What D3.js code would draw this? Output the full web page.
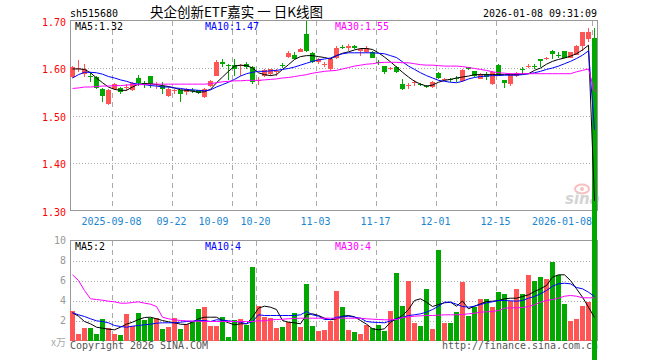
<!DOCTYPE html>
<html>
<head>
<meta charset="utf-8">
<script src="https://cdn.jsdelivr.net/npm/d3@7"></script>
<style>
  html, body { margin: 0; padding: 0; background: #fff; }
  svg { display: block; }
</style>
</head>
<body>
<svg id="chart" width="660" height="360"></svg>
<script>
// 央企创新ETF嘉实 daily K-line, 88 sessions (2025-08-28 .. 2026-01-08)
const open = [
  1.581, 1.597, 1.588, 1.584, 1.581, 1.556, 1.525, 1.556, 1.558, 1.558,
  1.553, 1.579, 1.568, 1.583, 1.565, 1.563, 1.541, 1.551, 1.553, 1.549,
  1.554, 1.553, 1.539, 1.562, 1.584, 1.613, 1.607, 1.606, 1.604, 1.609,
  1.603, 1.572, 1.583, 1.588, 1.592, 1.607, 1.624, 1.628, 1.634, 1.671,
  1.632, 1.612, 1.606, 1.598, 1.622, 1.645, 1.643, 1.646, 1.636, 1.633,
  1.634, 1.612, 1.604, 1.597, 1.603, 1.567, 1.562, 1.568, 1.566, 1.563,
  1.560, 1.590, 1.575, 1.576, 1.579, 1.572, 1.602, 1.593, 1.577, 1.588,
  1.567, 1.606, 1.574, 1.567, 1.583, 1.598, 1.603, 1.605, 1.618, 1.618,
  1.636, 1.628, 1.635, 1.622, 1.628, 1.647, 1.662, 1.663,
];
const high = [
  1.605, 1.617, 1.609, 1.591, 1.584, 1.558, 1.556, 1.569, 1.560, 1.567,
  1.570, 1.586, 1.572, 1.584, 1.570, 1.570, 1.560, 1.556, 1.554, 1.558,
  1.558, 1.554, 1.558, 1.574, 1.616, 1.620, 1.609, 1.620, 1.609, 1.613,
  1.605, 1.581, 1.597, 1.598, 1.598, 1.610, 1.636, 1.634, 1.643, 1.700,
  1.634, 1.622, 1.613, 1.622, 1.646, 1.648, 1.650, 1.648, 1.643, 1.646,
  1.636, 1.616, 1.605, 1.603, 1.605, 1.576, 1.568, 1.575, 1.568, 1.565,
  1.572, 1.591, 1.579, 1.579, 1.584, 1.597, 1.603, 1.594, 1.590, 1.591,
  1.593, 1.608, 1.575, 1.590, 1.591, 1.603, 1.609, 1.609, 1.619, 1.624,
  1.638, 1.633, 1.636, 1.634, 1.648, 1.676, 1.685, 1.685,
];
const low = [
  1.579, 1.591, 1.581, 1.570, 1.556, 1.528, 1.523, 1.553, 1.546, 1.551,
  1.551, 1.562, 1.558, 1.558, 1.556, 1.546, 1.539, 1.546, 1.528, 1.544,
  1.548, 1.546, 1.537, 1.560, 1.584, 1.602, 1.574, 1.584, 1.584, 1.598,
  1.567, 1.565, 1.581, 1.584, 1.584, 1.600, 1.622, 1.619, 1.633, 1.634,
  1.611, 1.609, 1.602, 1.593, 1.620, 1.639, 1.636, 1.639, 1.626, 1.632,
  1.621, 1.606, 1.588, 1.595, 1.590, 1.554, 1.556, 1.563, 1.562, 1.558,
  1.558, 1.577, 1.573, 1.570, 1.570, 1.570, 1.595, 1.581, 1.576, 1.574,
  1.565, 1.584, 1.558, 1.562, 1.581, 1.588, 1.600, 1.598, 1.602, 1.616,
  1.618, 1.621, 1.621, 1.621, 1.627, 1.636, 1.654, 0,
];
const close = [
  1.602, 1.599, 1.598, 1.582, 1.558, 1.541, 1.553, 1.567, 1.549, 1.561,
  1.568, 1.569, 1.566, 1.567, 1.567, 1.556, 1.556, 1.553, 1.546, 1.556,
  1.551, 1.548, 1.556, 1.572, 1.613, 1.609, 1.605, 1.598, 1.606, 1.602,
  1.570, 1.574, 1.595, 1.597, 1.594, 1.605, 1.632, 1.620, 1.641, 1.636,
  1.612, 1.620, 1.609, 1.619, 1.643, 1.643, 1.646, 1.643, 1.639, 1.643,
  1.622, 1.611, 1.591, 1.599, 1.591, 1.556, 1.565, 1.570, 1.564, 1.561,
  1.570, 1.579, 1.577, 1.574, 1.576, 1.595, 1.597, 1.583, 1.588, 1.581,
  1.591, 1.586, 1.568, 1.588, 1.590, 1.596, 1.605, 1.603, 1.615, 1.622,
  1.630, 1.626, 1.622, 1.633, 1.647, 1.675, 1.675, 0,
];
// volume, 万手
const volume = [
  3.0, 0.7, 1.3, 1.3, 0.7, 2.2, 1.3, 0.7, 0.6, 2.7,
  1.5, 2.8, 2.1, 2.3, 2.3, 1.2, 1.4, 2.3, 1.2, 1.7,
  1.9, 3.2, 3.4, 1.5, 1.5, 2.4, 0.4, 2.1, 2.2, 1.6,
  7.4, 3.5, 2.4, 2.3, 1.3, 1.4, 1.9, 2.8, 1.4, 5.7,
  1.5, 1.0, 1.1, 2.0, 5.0, 3.4, 1.1, 0.9, 0.7, 1.6,
  1.3, 1.6, 1.0, 3.0, 6.8, 3.5, 6.0, 1.8, 1.5, 5.2,
  1.2, 9.1, 1.8, 1.8, 2.9, 5.9, 2.5, 3.4, 4.2, 4.2,
  3.4, 4.9, 4.7, 4.0, 5.2, 4.7, 6.6, 6.0, 6.4, 6.2,
  7.9, 6.6, 3.7, 2.0, 2.2, 3.5, 3.9, 0.1,
];

// moving averages as drawn (they carry history from before the window)
const ma5 = [
  1.598, 1.598, 1.597, 1.590, 1.579, 1.569, 1.560, 1.555, 1.553, 1.553,
  1.560, 1.566, 1.567, 1.567, 1.565, 1.563, 1.561, 1.558, 1.554, 1.553,
  1.551, 1.549, 1.550, 1.555, 1.569, 1.581, 1.593, 1.604, 1.606, 1.605,
  1.600, 1.590, 1.586, 1.584, 1.586, 1.597, 1.607, 1.618, 1.624, 1.626,
  1.626, 1.624, 1.622, 1.619, 1.626, 1.631, 1.634, 1.638, 1.641, 1.641,
  1.639, 1.632, 1.623, 1.613, 1.602, 1.591, 1.581, 1.572, 1.566, 1.562,
  1.564, 1.570, 1.574, 1.576, 1.579, 1.581, 1.583, 1.586, 1.586, 1.586,
  1.586, 1.586, 1.586, 1.586, 1.586, 1.587, 1.588, 1.595, 1.600, 1.608,
  1.614, 1.618, 1.621, 1.625, 1.630, 1.638, 1.648, 1.32,
];
const ma10 = [
  1.579, 1.586, 1.591, 1.591, 1.590, 1.587, 1.582, 1.579, 1.575, 1.572,
  1.568, 1.566, 1.565, 1.563, 1.562, 1.560, 1.560, 1.558, 1.557, 1.555,
  1.554, 1.553, 1.552, 1.554, 1.560, 1.565, 1.570, 1.576, 1.583, 1.588,
  1.591, 1.593, 1.593, 1.594, 1.595, 1.597, 1.599, 1.602, 1.606, 1.610,
  1.614, 1.617, 1.619, 1.621, 1.626, 1.630, 1.632, 1.632, 1.632, 1.632,
  1.632, 1.631, 1.630, 1.626, 1.622, 1.613, 1.604, 1.597, 1.590, 1.584,
  1.579, 1.574, 1.572, 1.570, 1.569, 1.572, 1.577, 1.580, 1.582, 1.583,
  1.584, 1.584, 1.585, 1.585, 1.585, 1.586, 1.588, 1.590, 1.593, 1.597,
  1.600, 1.604, 1.609, 1.614, 1.620, 1.627, 1.636, 1.47,
];
const ma30 = [
  1.557, 1.558, 1.560, 1.560, 1.561, 1.562, 1.562, 1.563, 1.563, 1.564,
  1.565, 1.565, 1.565, 1.566, 1.566, 1.566, 1.566, 1.566, 1.566, 1.566,
  1.566, 1.566, 1.566, 1.567, 1.569, 1.571, 1.572, 1.573, 1.573, 1.574,
  1.574, 1.574, 1.575, 1.576, 1.577, 1.579, 1.580, 1.582, 1.584, 1.586,
  1.589, 1.591, 1.593, 1.594, 1.595, 1.598, 1.601, 1.604, 1.606, 1.608,
  1.609, 1.611, 1.612, 1.612, 1.612, 1.611, 1.611, 1.609, 1.607, 1.606,
  1.606, 1.605, 1.604, 1.604, 1.604, 1.603, 1.601, 1.599, 1.597, 1.595,
  1.592, 1.590, 1.589, 1.588, 1.588, 1.588, 1.588, 1.588, 1.588, 1.588,
  1.588, 1.588, 1.588, 1.588, 1.592, 1.595, 1.598, 1.55,
];
const volMa5 = [
  2.77, 2.43, 1.9, 1.67, 1.33, 1.23, 1.13, 1.07, 1.33, 1.63,
  1.83, 2.1, 2.3, 2.33, 2.17, 2.0, 1.87, 1.77, 1.63, 1.6,
  1.83, 2.17, 2.33, 2.33, 2.33, 2.0, 1.77, 1.57, 1.67, 1.67,
  2.33, 3.23, 3.43, 3.33, 3.1, 2.0, 1.83, 1.77, 1.67, 2.57,
  2.67, 2.5, 2.23, 2.07, 2.17, 2.43, 2.5, 2.37, 2.0, 1.63,
  1.17, 1.07, 1.17, 1.83, 2.17, 2.5, 3.1, 4.0, 4.17, 3.83,
  3.4, 3.6, 3.77, 3.83, 3.43, 3.95, 3.17, 3.43, 3.67, 3.9,
  3.93, 4.0, 4.17, 4.23, 4.23, 4.4, 4.57, 4.9, 5.17, 5.5,
  6.33, 6.57, 6.57, 6.0, 5.17, 4.33, 3.33, 2.3,
];
const volMa10 = [
  2.77, 2.57, 2.4, 2.17, 1.97, 1.9, 1.77, 1.5, 1.4, 1.33,
  1.43, 1.5, 1.57, 1.63, 1.73, 1.77, 1.77, 1.77, 1.83, 1.9,
  1.93, 2.0, 2.0, 1.9, 2.07, 2.03, 1.97, 1.9, 1.83, 1.67,
  1.9, 2.57, 2.5, 2.5, 2.5, 2.5, 2.5, 2.5, 2.57, 2.9,
  2.57, 2.43, 2.1, 2.1, 2.33, 2.37, 2.43, 2.33, 2.23, 1.9,
  1.83, 1.8, 1.77, 1.97, 2.17, 2.3, 2.5, 2.57, 2.67, 2.83,
  3.1, 3.43, 3.83, 3.83, 3.63, 3.4, 3.33, 3.43, 3.6, 3.77,
  3.87, 4.0, 4.0, 3.97, 3.93, 4.0, 4.23, 4.4, 4.67, 5.0,
  5.43, 5.67, 5.73, 5.67, 5.3, 5.17, 4.83, 4.4,
];
const volMa30 = [
  6.57, 6.0, 5.0, 4.17, 4.1, 4.03, 3.93, 3.87, 3.73, 3.73,
  3.8, 3.87, 3.73, 3.63, 3.4, 2.33, 2.17, 2.07, 2.0, 1.97,
  1.93, 1.93, 1.9, 1.9, 1.9, 1.9, 1.9, 1.9, 1.9, 1.9,
  1.9, 1.97, 1.97, 2.07, 2.1, 2.13, 2.17, 2.2, 2.23, 2.23,
  2.23, 2.23, 2.23, 2.23, 2.23, 2.23, 2.23, 2.23, 2.23, 2.17,
  2.13, 2.1, 2.07, 2.07, 2.1, 2.3, 2.37, 2.43, 2.47, 2.5,
  2.5, 2.53, 2.57, 2.57, 2.57, 2.6, 2.67, 2.73, 2.83, 2.87,
  2.9, 3.0, 3.23, 3.27, 3.27, 3.3, 3.4, 3.57, 3.83, 4.0,
  4.1, 4.23, 4.43, 4.5, 4.43, 4.27, 4.27, 4.27,
];

// axis ticks
const priceTicks = [1.70, 1.60, 1.50, 1.40, 1.30];
const volTicks = [10, 8, 6, 4, 2];
const dateIdx = [7, 17, 24, 31, 41, 51, 61, 71, 87];
const dateLabels = ["2025-09-08", "09-22", "10-09", "10-20", "11-03", "11-17", "12-01", "12-15", "2026-01-08"];
const vGridIdx = [7, 17, 27, 31, 41, 51, 61, 71, 87];

const maLabels = ["MA5:1.32", "MA10:1.47", "MA30:1.55"];
const volMaLabels = ["MA5:2", "MA10:4", "MA30:4"];

(function () {
  const svg = d3.select("#chart");
  const RED = "#ff5555", GREEN = "#00a800", GRID = "#aaaaaa", BORDER = "#999999";
  const maColors = ["#000000", "#0000ff", "#ff00ff"];
  const MONO = "'DejaVu Sans Mono', 'Liberation Mono', monospace";

  const n = close.length;
  const x = d3.scaleLinear().domain([0, 88]).range([70, 598]);
  const yP = d3.scaleLinear().domain([1.30, 1.70]).range([210.5, 20.5]);
  const yV = d3.scaleLinear().domain([0, 10]).range([340.5, 240.5]);
  const fmt2 = d3.format(".2f");

  // monospace text with a fixed 6px character cell, like the bitmap font of the original
  function mono(g, str, px, py, color, anchor) {
    return g.append("text")
      .attr("x", px).attr("y", py)
      .attr("font-family", MONO).attr("font-size", 11)
      .attr("fill", color)
      .attr("text-anchor", anchor || "start")
      .attr("textLength", str.length * 6)
      .attr("lengthAdjust", "spacingAndGlyphs")
      .text(str);
  }

  const grid = svg.append("g").attr("shape-rendering", "crispEdges");

  // horizontal dotted grid
  grid.selectAll("line.hp")
    .data(priceTicks.slice(1, -1))
    .join("line")
    .attr("x1", 70).attr("x2", 598)
    .attr("y1", (d) => Math.round(yP(d)) + 0.5).attr("y2", (d) => Math.round(yP(d)) + 0.5)
    .attr("stroke", GRID).attr("stroke-dasharray", "1,2");
  grid.selectAll("line.hv")
    .data(volTicks.slice(1))
    .join("line")
    .attr("x1", 70).attr("x2", 598)
    .attr("y1", (d) => Math.round(yV(d)) + 0.5).attr("y2", (d) => Math.round(yV(d)) + 0.5)
    .attr("stroke", GRID).attr("stroke-dasharray", "1,2");

  // vertical dashed grid, both panels
  [[yP(1.70), yP(1.30)], [yV(10), yV(0)]].forEach(([y0, y1]) => {
    grid.append("g").selectAll("line")
      .data(vGridIdx)
      .join("line")
      .attr("x1", (d) => x(d) + 0.5).attr("x2", (d) => x(d) + 0.5)
      .attr("y1", y0).attr("y2", y1)
      .attr("stroke", GRID).attr("stroke-dasharray", "5,4");
  });

  // panel frames
  grid.append("rect").attr("x", 70.5).attr("y", yP(1.70)).attr("width", 527).attr("height", yP(1.30) - yP(1.70))
    .attr("fill", "none").attr("stroke", BORDER);
  grid.append("rect").attr("x", 70.5).attr("y", yV(10)).attr("width", 527).attr("height", yV(0) - yV(10))
    .attr("fill", "none").attr("stroke", BORDER);

  // header
  const head = svg.append("g");
  mono(head, "sh515680", 70, 17, "#000");
  head.append("text")
    .attr("x", 150).attr("y", 16.5)
    .attr("font-family", "'Noto Sans CJK SC', sans-serif").attr("font-size", 13.5)
    .attr("textLength", 173).attr("lengthAdjust", "spacingAndGlyphs")
    .attr("fill", "#000")
    .text("央企创新ETF嘉实 一 日K线图");
  mono(head, "2026-01-08 09:31:09", 597, 17, "#000", "end");

  // y labels
  const lab = svg.append("g");
  priceTicks.forEach((d) => mono(lab, fmt2(d), 66, yP(d) + 5, "#ff0000", "end"));
  volTicks.forEach((d) => mono(lab, String(d), 66, yV(d) + 3.5, "#999999", "end"));
  lab.append("text").attr("x", 66).attr("y", 346).attr("text-anchor", "end")
    .attr("font-family", "'Noto Sans CJK SC', sans-serif").attr("font-size", 10)
    .attr("fill", "#aaaaaa").text("x万");

  // date labels
  dateIdx.forEach((d, k) => {
    const s = dateLabels[k];
    const last = k === dateIdx.length - 1;
    mono(lab, s, last ? x(d) : x(d) - 0.5, 225, "#1a86d0", last ? "end" : "middle");
  });

  // MA legends
  const legX = [75, 205, 335];
  maLabels.forEach((s, k) => mono(lab, s, legX[k], 29.5, maColors[k]));
  volMaLabels.forEach((s, k) => mono(lab, s, legX[k], 250, maColors[k]));

  // footer
  mono(lab, "Copyright 2026 SINA.COM", 70, 349, "#555555");
  mono(lab, "http://finance.sina.com.cn", 598, 349, "#555555", "end");

  // sina watermark
  const wm = svg.append("g").attr("opacity", 0.5);
  wm.append("ellipse").attr("cx", 582).attr("cy", 189).attr("rx", 7).attr("ry", 4.5)
    .attr("fill", "none").attr("stroke", "#f08080").attr("stroke-width", 2);
  wm.append("circle").attr("cx", 582).attr("cy", 189).attr("r", 2).attr("fill", "#f08080");
  wm.append("text").attr("x", 565).attr("y", 204)
    .attr("font-family", "'DejaVu Sans', sans-serif").attr("font-size", 15)
    .attr("font-weight", "bold").attr("font-style", "italic")
    .attr("fill", "#aaaaaa").text("sina");

  const idx = d3.range(n);
  const up = (i) => close[i] >= open[i];

  // volume bars
  svg.append("g").attr("shape-rendering", "crispEdges")
    .selectAll("rect")
    .data(idx)
    .join("rect")
    .attr("x", (i) => x(i))
    .attr("y", (i) => yV(volume[i]))
    .attr("width", 5)
    .attr("height", (i) => yV(0) - yV(volume[i]))
    .attr("fill", (i) => (up(i) ? RED : GREEN));

  // candles
  const candle = svg.append("g").attr("shape-rendering", "crispEdges")
    .selectAll("g")
    .data(idx)
    .join("g")
    .attr("fill", (i) => (up(i) ? RED : GREEN))
    .attr("stroke", (i) => (up(i) ? RED : GREEN));
  candle.append("line")
    .attr("x1", (i) => x(i) + 2.5).attr("x2", (i) => x(i) + 2.5)
    .attr("y1", (i) => yP(high[i])).attr("y2", (i) => yP(low[i]));
  candle.append("rect")
    .attr("stroke", "none")
    .attr("x", (i) => x(i))
    .attr("width", 5)
    .attr("y", (i) => Math.min(yP(open[i]), yP(close[i])))
    .attr("height", (i) => Math.max(1, Math.abs(yP(open[i]) - yP(close[i]))));

  // moving average lines
  const linesP = [ma5, ma10, ma30];
  const lineP = d3.line().x((d, i) => x(i) + 2.5).y((d) => yP(d));
  linesP.forEach((arr, k) => {
    svg.append("path").datum(arr)
      .attr("d", lineP)
      .attr("fill", "none").attr("stroke", maColors[k]).attr("stroke-width", 1);
  });
  const linesV = [volMa5, volMa10, volMa30];
  const lineV = d3.line().x((d, i) => x(i) + 2.5).y((d) => yV(d));
  linesV.forEach((arr, k) => {
    svg.append("path").datum(arr)
      .attr("d", lineV)
      .attr("fill", "none").attr("stroke", maColors[k]).attr("stroke-width", 1);
  });
})();
</script>
</body>
</html>
